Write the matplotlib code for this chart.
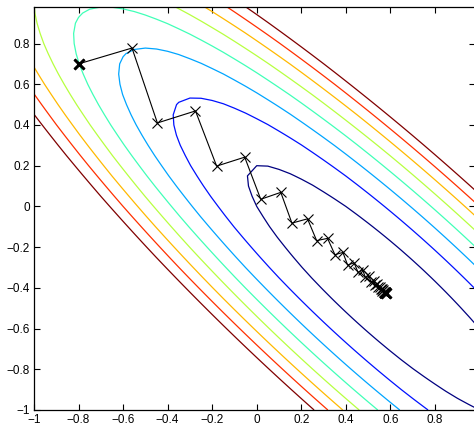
import numpy as np
import matplotlib
matplotlib.use("Agg")
from matplotlib import pyplot as plt
from matplotlib.ticker import FuncFormatter

# quadratic f(x) = 0.5 x'Ax - b'x, drawn as contours
A = [[1.0, 0.9], [0.9, 1.0]]
b = [0.2, 0.1]
levels = [0.0, 0.05, 0.1, 0.15, 0.2, 0.25, 0.3, 0.35]

# descent path
path_x = [-0.800, -0.560, -0.446, -0.275, -0.180, -0.054, 0.018, 0.108, 0.158, 0.228,
          0.269, 0.318, 0.351, 0.387, 0.408, 0.437, 0.455, 0.476, 0.488, 0.504,
          0.513, 0.525, 0.532, 0.541, 0.546, 0.553, 0.556, 0.562, 0.564, 0.568,
          0.570, 0.573, 0.574, 0.576, 0.577, 0.578, 0.578, 0.579]
path_y = [0.700, 0.778, 0.410, 0.469, 0.198, 0.242, 0.035, 0.069, -0.082, -0.061,
          -0.168, -0.157, -0.237, -0.226, -0.288, -0.277, -0.324, -0.313, -0.349, -0.343,
          -0.370, -0.366, -0.386, -0.383, -0.398, -0.396, -0.407, -0.405, -0.414, -0.413,
          -0.419, -0.418, -0.422, -0.421, -0.424, -0.423, -0.425, -0.425]

xticks = [-1, -0.8, -0.6, -0.4, -0.2, 0, 0.2, 0.4, 0.6, 0.8]
yticks = [-1, -0.8, -0.6, -0.4, -0.2, 0, 0.2, 0.4, 0.6, 0.8]

plt.rcParams["font.family"] = ["Liberation Sans", "DejaVu Sans"]

W, H = 474, 425
fig = plt.figure(figsize=(W / 100, H / 100), dpi=100)
ax = fig.add_axes([34 / W, 15 / H, 441 / W, 403.5 / H])

# coarse grid, like the original's polygonal contours
gx = np.arange(-1, 1.001, 0.05)
gy = np.arange(-1, 1.001, 0.05)
X, Y = np.meshgrid(gx, gy)
Z = 0.5 * (A[0][0] * X**2 + 2 * A[0][1] * X * Y + A[1][1] * Y**2) - b[0] * X - b[1] * Y
ax.contour(X, Y, Z, levels=levels, cmap="jet", linewidths=0.9)

ax.plot(path_x, path_y, color="black", lw=0.8, marker="x", ms=7.5, mew=0.8)
ax.plot([path_x[0], path_x[-1]], [path_y[0], path_y[-1]], ls="none",
        marker="x", ms=6.5, mew=2.2, color="black")

ax.set_xlim(-1, 0.98)
ax.set_ylim(-1, 0.982)
ax.set_xticks(xticks)
ax.set_yticks(yticks)
fmt = FuncFormatter(lambda v, p: ("%g" % round(v, 2)).replace("-", "\u2212"))
ax.xaxis.set_major_formatter(fmt)
ax.yaxis.set_major_formatter(fmt)
ax.tick_params(direction="in", top=True, right=True, length=4, width=0.8,
               labelsize=8.5, pad=3)
for s in ax.spines.values():
    s.set_linewidth(0.9)

fig.savefig("out.png", dpi=100)
